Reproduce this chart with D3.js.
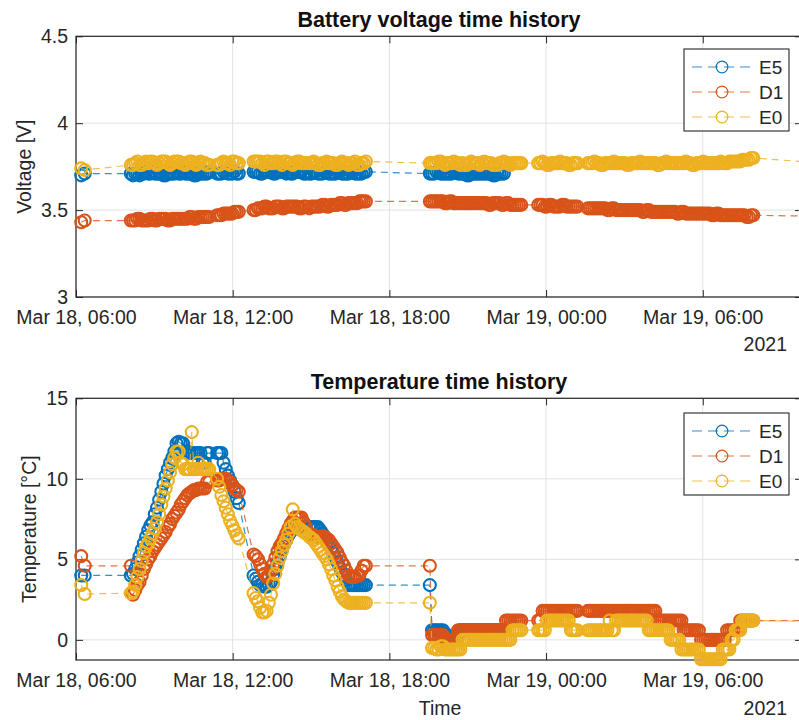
<!DOCTYPE html>
<html>
<head>
<meta charset="utf-8">
<script src="https://cdn.jsdelivr.net/npm/d3@7"></script>
<style>
  body { margin: 0; background: #fff; }
  svg { display: block; font-family: "Liberation Sans", Arial, Helvetica, sans-serif; }
</style>
</head>
<body>
<svg id="fig" width="799" height="720"></svg>
<script>
// Logging start: 2021-03-18 06:00 local time; samples are minutes after it.
const startTime = new Date(2021, 2, 18, 6, 0);

const sampleMinutes = [
  12, 20,
  // 08:06 - 11:06
  126,131,136,141,146,151,156,161,166,171,176,181,186,191,196,201,206,211,216,221,
  226,231,236,241,246,251,256,261,266,271,276,281,286,291,296,301,306,
  // 11:24 - 12:14
  324,329,334,339,344,349,354,359,364,369,374,
  // 12:48 - 14:48
  408,413,418,423,428,433,438,443,448,453,458,463,468,473,478,483,488,493,498,503,508,513,518,523,528,
  // 14:56 - 17:06
  536,541,546,551,556,561,566,571,576,581,586,591,596,601,606,611,616,621,626,631,636,641,646,651,656,661,666,
  // 19:33 - 23:03
  813,818,823,828,833,838,843,848,853,858,863,868,873,878,883,888,893,898,903,908,
  913,918,923,928,933,938,943,948,953,958,963,968,973,978,983,988,993,998,1003,1008,
  1013,1018,1023,
  // 23:42 - 01:12
  1062,1067,1072,1077,1082,1087,1092,1097,1102,1107,1112,1117,1122,1127,1132,1137,1142,1147,1152,
  // 01:36 - 07:56
  1176,1181,1186,1191,1196,1201,1206,1211,1216,1221,
  1226,1231,1236,1241,1246,1251,1256,1261,1266,1271,
  1276,1281,1286,1291,1296,1301,1306,1311,1316,1321,
  1326,1331,1336,1341,1346,1351,1356,1361,1366,1371,
  1376,1381,1386,1391,1396,1401,1406,1411,1416,1421,
  1426,1431,1436,1441,1446,1451,1456,1461,1466,1471,
  1476,1481,1486,1491,1496,1501,1506,1511,1516,1521,
  1526,1531,1536,1541,1546,1551,1556,
  1690
];

const seriesNames = ["E5", "D1", "E0"];
const seriesColors = ["#0072BD", "#D95319", "#EDB120"];

// Battery voltage [V]; E5 stops reporting in the evening of Mar 18
const voltageE5 = [
  3.70, 3.71,
  3.71,3.70,3.71,3.71,3.70,3.71,3.71,3.72,3.71,3.71,
  3.72,3.71,3.71,3.71,3.71,3.70,3.70,3.71,3.71,3.71,
  3.71,3.72,3.71,3.71,3.72,3.71,3.71,3.71,3.71,3.70,
  3.70,3.71,3.71,3.71,3.71,3.71,3.72,
  3.71,3.71,3.71,3.72,3.72,3.71,3.71,3.71,3.72,3.71,3.71,
  3.72,3.72,3.72,3.71,3.71,3.72,3.72,3.72,3.72,3.71,
  3.71,3.72,3.72,3.72,3.72,3.71,3.72,3.71,3.71,3.72,
  3.72,3.72,3.72,3.71,3.71,
  3.71,3.71,3.72,3.72,3.71,3.71,3.71,3.72,3.72,3.71,
  3.71,3.71,3.71,3.72,3.72,3.71,3.71,3.71,3.71,3.72,
  3.72,3.71,3.71,3.71,3.71,3.72,3.72,
  3.71,3.71,3.71,3.72,3.72,3.71,3.71,3.71,3.71,3.71,
  3.71,3.72,3.72,3.71,3.71,3.71,3.71,3.70,3.70,3.71,
  3.71,3.71,3.71,3.71,3.71,3.71,3.71,3.71,3.71,3.70,
  3.70,3.71,3.71,3.71,3.71
];
const voltageD1 = [
  3.43, 3.44,
  3.44,3.44,3.44,3.45,3.45,3.44,3.44,3.44,3.44,3.45,
  3.45,3.44,3.44,3.45,3.45,3.45,3.45,3.44,3.44,3.45,
  3.45,3.45,3.45,3.45,3.45,3.45,3.45,3.46,3.46,3.45,
  3.45,3.46,3.46,3.46,3.46,3.46,3.46,
  3.47,3.47,3.47,3.48,3.48,3.48,3.48,3.48,3.49,3.49,3.49,
  3.50,3.50,3.51,3.51,3.51,3.52,3.52,3.51,3.51,3.51,
  3.52,3.52,3.52,3.51,3.51,3.52,3.52,3.52,3.52,3.52,
  3.52,3.51,3.51,3.52,3.52,
  3.51,3.52,3.52,3.52,3.52,3.52,3.53,3.53,3.52,3.52,
  3.53,3.53,3.53,3.53,3.54,3.54,3.53,3.53,3.54,3.54,
  3.54,3.54,3.54,3.55,3.55,3.55,3.55,
  3.55,3.55,3.55,3.55,3.55,3.55,3.55,3.54,3.54,3.55,
  3.55,3.54,3.54,3.54,3.54,3.54,3.54,3.54,3.54,3.54,
  3.54,3.54,3.54,3.54,3.54,3.54,3.54,3.53,3.53,3.54,
  3.54,3.54,3.54,3.53,3.53,3.54,3.54,3.53,3.53,3.53,
  3.53,3.53,3.53,
  3.53,3.53,3.53,3.52,3.52,3.53,3.53,3.52,3.52,3.52,
  3.52,3.53,3.53,3.52,3.52,3.52,3.52,3.52,3.52,
  3.51,3.51,3.51,3.51,3.51,3.51,3.51,3.51,3.51,3.50,
  3.50,3.51,3.51,3.50,3.50,3.50,3.50,3.50,3.50,3.50,
  3.50,3.50,3.50,3.50,3.50,3.49,3.49,3.50,3.50,3.49,
  3.49,3.49,3.49,3.49,3.49,3.49,3.49,3.49,3.49,3.49,
  3.49,3.48,3.48,3.49,3.49,3.48,3.48,3.48,3.48,3.48,
  3.48,3.48,3.48,3.48,3.48,3.48,3.48,3.47,3.47,3.48,
  3.48,3.47,3.47,3.47,3.47,3.47,3.47,3.47,3.47,3.47,
  3.47,3.47,3.47,3.46,3.46,3.47,3.47,
  3.465
];
const voltageE0 = [
  3.74, 3.73,
  3.76,3.76,3.77,3.78,3.76,3.76,3.77,3.78,3.77,3.78,
  3.78,3.77,3.76,3.77,3.78,3.78,3.78,3.77,3.76,3.77,
  3.78,3.78,3.78,3.77,3.77,3.76,3.77,3.78,3.78,3.77,
  3.76,3.77,3.78,3.77,3.77,3.76,3.76,
  3.76,3.76,3.77,3.78,3.77,3.77,3.76,3.78,3.78,3.77,3.77,
  3.78,3.78,3.78,3.78,3.77,3.76,3.78,3.78,3.77,3.77,
  3.78,3.78,3.77,3.76,3.78,3.78,3.77,3.77,3.76,3.77,
  3.78,3.78,3.77,3.77,3.77,
  3.77,3.77,3.78,3.77,3.76,3.76,3.77,3.77,3.78,3.77,
  3.77,3.77,3.76,3.76,3.77,3.78,3.77,3.77,3.76,3.77,
  3.77,3.78,3.76,3.76,3.77,3.77,3.78,
  3.77,3.77,3.77,3.77,3.78,3.78,3.77,3.76,3.77,3.77,
  3.77,3.78,3.77,3.77,3.76,3.77,3.76,3.76,3.77,3.78,
  3.77,3.77,3.77,3.76,3.77,3.78,3.77,3.77,3.77,3.76,
  3.76,3.76,3.77,3.77,3.78,3.77,3.77,3.76,3.77,3.77,
  3.77,3.77,3.77,
  3.77,3.77,3.78,3.77,3.76,3.76,3.77,3.77,3.77,3.77,
  3.78,3.77,3.77,3.77,3.76,3.76,3.77,3.77,3.77,
  3.77,3.77,3.77,3.78,3.77,3.77,3.76,3.76,3.77,3.77,
  3.77,3.77,3.78,3.77,3.77,3.77,3.77,3.77,3.76,3.76,
  3.77,3.77,3.77,3.77,3.78,3.77,3.77,3.77,3.77,3.77,
  3.77,3.77,3.76,3.76,3.77,3.77,3.78,3.77,3.77,3.77,
  3.77,3.77,3.77,3.77,3.77,3.78,3.77,3.77,3.76,3.76,
  3.77,3.77,3.77,3.78,3.77,3.77,3.77,3.77,3.77,3.77,
  3.77,3.78,3.77,3.77,3.77,3.78,3.78,3.78,3.78,3.78,
  3.78,3.79,3.79,3.79,3.79,3.80,3.80,
  3.775
];

// Temperature [°C]
const temperatureE5 = [
  4.0, 4.0,
  4.0,4.1,4.4,4.8,5.2,5.6,6.0,6.4,6.8,7.1,
  7.3,7.8,8.2,8.7,9.2,9.7,10.2,10.6,11.0,11.3,
  11.7,12.2,12.3,12.2,12.2,11.7,11.7,11.6,11.6,11.6,
  11.6,11.6,11.6,11.0,11.0,11.6,11.6,
  11.6,11.6,11.6,11.0,10.6,10.2,9.9,9.6,9.2,8.8,8.5,
  4.0,3.8,3.6,3.4,3.4,3.3,3.3,3.4,3.6,4.0,
  4.4,4.8,5.2,5.6,5.9,6.2,6.5,6.7,6.9,7.0,
  7.0,7.0,7.0,7.0,7.0,
  7.0,7.0,7.0,7.0,7.0,6.8,6.6,6.4,6.1,5.9,
  5.7,5.4,5.1,4.8,4.5,4.2,4.0,3.7,3.4,3.4,
  3.4,3.4,3.4,3.4,3.4,3.4,3.4,
  3.4,0.6,0.6,0.6,0.6,0.6,0.6,0.3,0.3,0.0,
  0.0,0.0,0.0,0.3,0.6,0.6,0.6,0.6,0.6,0.6,
  0.6,0.6,0.6,0.6,0.6,0.6,0.6,0.6,0.6,0.6,
  0.6,0.6,0.6,0.6,0.6
];
const temperatureD1 = [
  5.2, 4.6,
  4.6,2.8,3.1,3.4,3.6,4.0,4.4,4.7,5.0,5.2,
  5.5,5.7,5.9,6.1,6.3,6.5,6.7,7.0,7.2,7.5,
  7.7,7.9,8.1,8.4,8.6,8.8,9.0,9.1,9.2,9.3,
  9.3,9.4,9.4,9.4,9.4,9.8,9.8,
  9.9,9.9,10.0,10.0,10.0,9.9,9.8,9.6,9.4,9.3,9.2,
  5.3,5.2,5.0,4.7,4.4,4.1,3.9,4.0,4.3,4.7,
  5.1,5.5,5.8,6.0,6.3,6.6,6.9,7.2,7.4,7.6,
  7.6,7.6,7.6,7.3,7.0,
  6.6,6.5,6.5,6.4,6.4,6.4,6.4,6.4,6.3,6.2,
  6.0,5.8,5.6,5.4,5.1,4.8,4.6,4.3,4.0,3.9,
  3.9,3.9,4.0,4.0,4.3,4.6,4.6,
  4.6,0.3,0.3,0.3,0.3,0.3,0.3,0.0,0.0,0.0,
  0.0,0.0,0.0,0.6,0.6,0.6,0.6,0.6,0.6,0.6,
  0.6,0.6,0.6,0.6,0.6,0.6,0.6,0.6,0.6,0.6,
  0.6,0.6,0.6,0.6,0.6,1.2,1.2,1.2,1.2,1.2,
  1.2,1.2,1.2,
  1.2,1.2,1.8,1.8,1.8,1.8,1.8,1.8,1.8,1.8,
  1.8,1.8,1.8,1.8,1.8,1.8,1.8,1.8,1.8,
  1.8,1.8,1.8,1.8,1.8,1.8,1.8,1.8,1.8,1.8,
  1.8,1.8,1.8,1.8,1.8,1.8,1.8,1.8,1.8,1.8,
  1.8,1.8,1.8,1.8,1.8,1.8,1.8,1.8,1.8,1.8,
  1.8,1.8,1.2,1.2,1.2,1.2,1.2,1.2,1.2,1.2,
  1.2,1.2,1.2,1.2,0.6,0.6,0.6,0.6,0.6,0.6,
  0.6,0.6,0.0,0.0,0.0,0.0,0.0,0.0,0.0,0.0,
  0.0,0.0,0.0,0.0,0.6,0.6,0.6,0.6,0.6,0.6,
  1.2,1.2,1.2,1.2,1.2,1.2,1.2,
  1.2
];
const temperatureE0 = [
  3.4, 2.85,
  2.9,3.0,3.4,3.9,4.4,4.9,5.4,5.8,6.0,6.3,
  6.6,6.9,7.3,7.8,8.4,8.9,9.4,9.9,10.4,10.9,
  11.3,11.7,11.7,11.0,10.9,10.6,10.6,10.6,12.9,10.6,
  10.6,11.0,10.6,10.6,10.6,10.6,10.6,
  10.0,9.5,9.0,8.6,8.2,7.8,7.4,7.1,6.8,6.5,6.3,
  2.9,2.6,2.4,2.0,1.7,1.7,1.8,2.3,2.8,3.5,
  4.1,4.6,5.1,5.5,5.9,6.2,6.6,7.0,8.1,7.2,
  7.0,6.9,6.8,6.7,6.6,
  6.4,6.3,6.2,6.0,5.8,5.6,5.4,5.2,5.0,4.7,
  4.4,4.0,3.7,3.3,3.0,2.7,2.5,2.4,2.3,2.3,
  2.3,2.3,2.3,2.3,2.3,2.3,2.3,
  2.3,-0.5,-0.5,-0.6,-0.6,-0.4,-0.4,-0.6,-0.6,-0.6,
  -0.6,-0.6,-0.6,-0.6,-0.6,0.0,0.0,0.0,0.0,0.0,
  0.0,0.0,0.0,0.0,0.0,0.0,0.0,0.0,0.0,0.0,
  0.0,0.0,0.0,0.0,0.0,0.0,0.0,0.0,0.6,0.6,
  0.6,0.6,0.6,
  0.6,0.6,0.6,0.6,1.2,1.2,1.2,1.2,1.2,1.2,
  1.2,1.2,1.2,1.2,1.2,0.6,0.6,0.6,0.6,
  0.6,0.6,0.6,0.6,0.6,0.6,0.6,0.6,0.6,0.6,
  1.2,0.6,0.6,1.2,1.2,1.2,1.2,1.2,1.2,1.2,
  1.2,1.2,1.2,1.2,1.2,1.2,1.2,1.2,0.6,0.6,
  0.6,0.6,0.6,0.6,0.6,0.6,0.6,0.6,0.0,0.0,
  0.0,0.0,0.0,-0.6,-0.6,-0.6,-0.6,-0.6,-0.6,-0.6,
  -0.6,-0.6,-1.2,-1.2,-1.2,-1.2,-1.2,-1.2,-1.2,-1.2,
  -1.2,-1.2,-0.6,-0.6,-0.6,-0.6,0.0,0.0,0.6,0.6,
  0.6,1.2,1.2,1.2,1.2,1.2,1.2,
  1.15
];

const xTickTimes = ["2021-03-18T06:00", "2021-03-18T12:00", "2021-03-18T18:00", "2021-03-19T00:00", "2021-03-19T06:00"];
const voltageTicks = [3, 3.5, 4, 4.5];
const temperatureTicks = [0, 5, 10, 15];
const yearLabel = "2021";

// ---- layout ----
const svg = d3.select("#fig");
const AX_LEFT = 76, AX_RIGHT = 802;
const FONT = 19.5;
const INK = "#262626";

const parseTick = d3.timeParse("%Y-%m-%dT%H:%M");
const xTicks = xTickTimes.map(parseTick);
const x = d3.scaleTime()
  .domain([startTime, d3.timeMinute.offset(startTime, 1668)])
  .range([AX_LEFT, AX_RIGHT]);
const fmt = d3.timeFormat("%b %d, %H:%M");

const panels = [
  {
    title: "Battery voltage time history", ylabel: "Voltage [V]",
    top: 36.3, bottom: 297, yDomain: [3, 4.5], yTicks: voltageTicks,
    titleY: 27, ylabelX: 31, yearY: 351, legendTop: 49, xlabel: null,
    series: [voltageE5, voltageD1, voltageE0]
  },
  {
    title: "Temperature time history", ylabel: "Temperature [°C]",
    top: 398.3, bottom: 660, yDomain: [-1.25, 15], yTicks: temperatureTicks,
    titleY: 389, ylabelX: 36, yearY: 715, legendTop: 413, xlabel: "Time",
    series: [temperatureE5, temperatureD1, temperatureE0]
  }
];

function styleAxis(sel) {
  sel.select(".domain").remove();
  sel.attr("font-family", null).attr("font-size", FONT).attr("color", INK);
  sel.selectAll(".tick line").attr("stroke-width", 1);
  sel.selectAll(".tick text").attr("fill", INK);
}

panels.forEach(p => {
  const g = svg.append("g");
  const y = d3.scaleLinear().domain(p.yDomain).range([p.bottom, p.top]);

  // grid
  g.append("g").selectAll("line").data(xTicks).join("line")
    .attr("x1", d => x(d)).attr("x2", d => x(d))
    .attr("y1", p.top).attr("y2", p.bottom)
    .attr("stroke", "#e2e2e2").attr("stroke-width", 1);
  g.append("g").selectAll("line").data(p.yTicks).join("line")
    .attr("x1", AX_LEFT).attr("x2", AX_RIGHT)
    .attr("y1", d => y(d)).attr("y2", d => y(d))
    .attr("stroke", "#e2e2e2").attr("stroke-width", 1);

  // axes with inward ticks on all four sides
  g.append("g").attr("transform", `translate(0,${p.bottom})`)
    .call(d3.axisBottom(x).tickValues(xTicks).tickFormat(fmt).tickSize(-7).tickPadding(13.2))
    .call(styleAxis);
  g.append("g").attr("transform", `translate(0,${p.top})`)
    .call(d3.axisTop(x).tickValues(xTicks).tickFormat("").tickSize(-7))
    .call(styleAxis);
  g.append("g").attr("transform", `translate(${AX_LEFT},0)`)
    .call(d3.axisLeft(y).tickValues(p.yTicks).tickFormat(d => String(d)).tickSize(-7).tickPadding(8))
    .call(styleAxis);
  g.append("g").attr("transform", `translate(${AX_RIGHT},0)`)
    .call(d3.axisRight(y).tickValues(p.yTicks).tickFormat("").tickSize(-7))
    .call(styleAxis);

  g.append("rect")
    .attr("x", AX_LEFT).attr("y", p.top)
    .attr("width", AX_RIGHT - AX_LEFT).attr("height", p.bottom - p.top)
    .attr("fill", "none").attr("stroke", INK).attr("stroke-width", 1.2);

  // series: dashed connecting line plus open circle markers
  const line = d3.line()
    .defined(d => d.v != null)
    .x(d => x(d.t)).y(d => y(d.v));

  p.series.forEach((values, i) => {
    const n = Math.min(values.length, sampleMinutes.length);
    const pts = [];
    for (let j = 0; j < n; j++) {
      pts.push({ t: d3.timeMinute.offset(startTime, sampleMinutes[j]), v: values[j] });
    }
    const sg = g.append("g");
    sg.append("path").datum(pts)
      .attr("d", line)
      .attr("fill", "none")
      .attr("stroke", seriesColors[i])
      .attr("stroke-width", 1.2)
      .attr("stroke-opacity", 0.8)
      .attr("stroke-dasharray", "7,5");
    sg.selectAll("circle").data(pts.filter(d => d.v != null)).join("circle")
      .attr("cx", d => x(d.t)).attr("cy", d => y(d.v))
      .attr("r", 6)
      .attr("fill", "none")
      .attr("stroke", seriesColors[i])
      .attr("stroke-width", 2.1);
  });

  // title, labels
  g.append("text")
    .attr("x", (AX_LEFT + AX_RIGHT) / 2).attr("y", p.titleY)
    .attr("text-anchor", "middle")
    .attr("font-size", 21.5).attr("font-weight", "bold").attr("fill", "#111")
    .text(p.title);
  g.append("text")
    .attr("transform", `translate(${p.ylabelX},${(p.top + p.bottom) / 2}) rotate(-90)`)
    .attr("text-anchor", "middle")
    .attr("font-size", FONT).attr("fill", INK)
    .text(p.ylabel);
  g.append("text")
    .attr("x", 787).attr("y", p.yearY)
    .attr("text-anchor", "end")
    .attr("font-size", FONT).attr("fill", INK)
    .text(yearLabel);
  if (p.xlabel) {
    g.append("text")
      .attr("x", 440).attr("y", 715)
      .attr("text-anchor", "middle")
      .attr("font-size", FONT).attr("fill", INK)
      .text(p.xlabel);
  }

  // legend
  const lg = g.append("g").attr("transform", `translate(684,${p.legendTop})`);
  lg.append("rect")
    .attr("width", 105).attr("height", 82)
    .attr("fill", "#fff").attr("stroke", INK).attr("stroke-width", 1.1);
  seriesNames.forEach((name, i) => {
    const yy = 18 + i * 25;
    lg.append("line")
      .attr("x1", 8).attr("x2", 69).attr("y1", yy).attr("y2", yy)
      .attr("stroke", seriesColors[i]).attr("stroke-width", 1.2)
      .attr("stroke-opacity", 0.8).attr("stroke-dasharray", "10,6");
    lg.append("circle")
      .attr("cx", 38).attr("cy", yy).attr("r", 5.8)
      .attr("fill", "none").attr("stroke", seriesColors[i]).attr("stroke-width", 1.2);
    lg.append("text")
      .attr("x", 75).attr("y", yy).attr("dy", "0.35em")
      .attr("font-size", 19).attr("fill", INK)
      .text(name);
  });
});
</script>
</body>
</html>
